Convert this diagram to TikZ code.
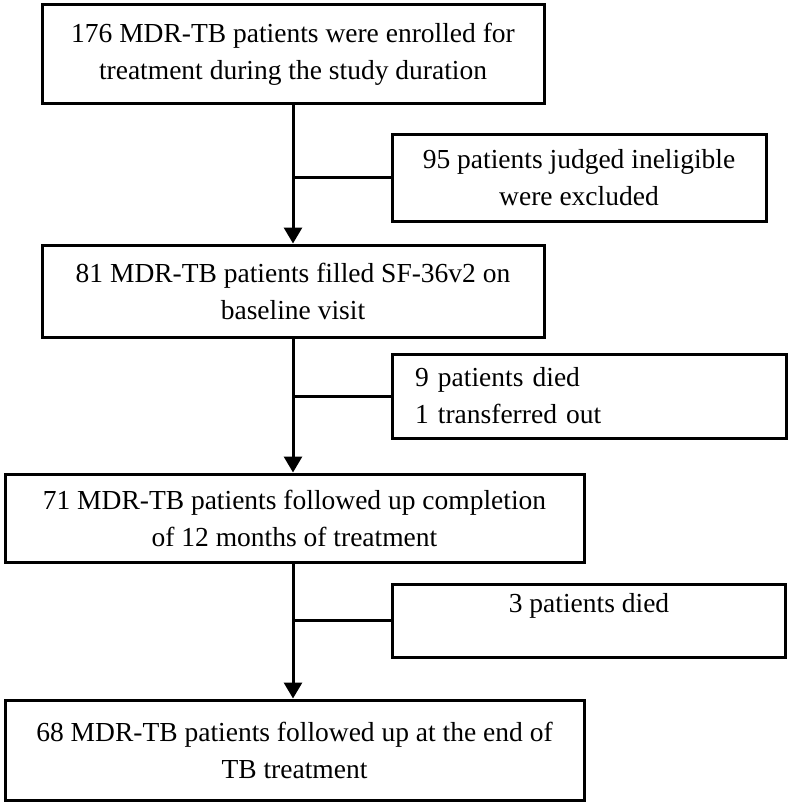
\documentclass[tikz,border=0pt]{standalone}
\usepackage{fontspec}
\setmainfont{Liberation Serif}
\usetikzlibrary{arrows.meta}
\begin{document}
\begin{tikzpicture}[x=1pt,y=-1pt,
  every node/.style={font=\fontsize{27.5}{37}\selectfont},
  mainbox/.style={draw,line width=3pt,align=center,inner sep=0pt},
  sidebox/.style={draw,line width=3pt,inner sep=0pt},
  flow/.style={line width=3pt,-{Triangle[width=18pt,length=16pt]}},
  branch/.style={line width=3pt}]
\useasboundingbox (0,0) rectangle (790,805);
\node[mainbox,minimum width=502pt,minimum height=99pt] (b1) at (293,54.5)
  {176 MDR-TB patients were enrolled for\\treatment during the study duration};
\node[mainbox,minimum width=502pt,minimum height=92pt] (b2) at (293,291)
  {81 MDR-TB patients filled SF-36v2 on\\baseline visit};
\node[mainbox,minimum width=579pt,minimum height=88pt] (b3) at (294.5,518)
  {71 MDR-TB patients followed up completion\\of 12 months of treatment};
\node[mainbox,minimum width=579pt,minimum height=100pt] (b4) at (294.5,750)
  {68 MDR-TB patients followed up at the end of\\TB treatment};
\node[sidebox,align=center,minimum width=374pt,minimum height=86pt] (s1) at (579,178)
  {95 patients judged ineligible\\were excluded};
\node[sidebox,align=left,text width=348pt,inner xsep=23pt,minimum height=84pt] (s2) at (589,396)
  {9 patients died\\1 transferred out};
\node[sidebox,minimum width=393pt,minimum height=73pt] (s3) at (588.5,620.5) {};
\node[anchor=base] (t3) at (589,612) {3 patients died};
\draw[flow] (b1.south) -- (b2.north);
\draw[flow] (b2.south) -- (b2.south |- b3.north);
\draw[flow] (b2.south |- b3.south) -- (b2.south |- b4.north);
\draw[branch] (b1.south |- s1.west) -- (s1.west);
\draw[branch] (b2.south |- s2.west) -- (s2.west);
\draw[branch] (b2.south |- s3.west) -- (s3.west);
\end{tikzpicture}
\end{document}
